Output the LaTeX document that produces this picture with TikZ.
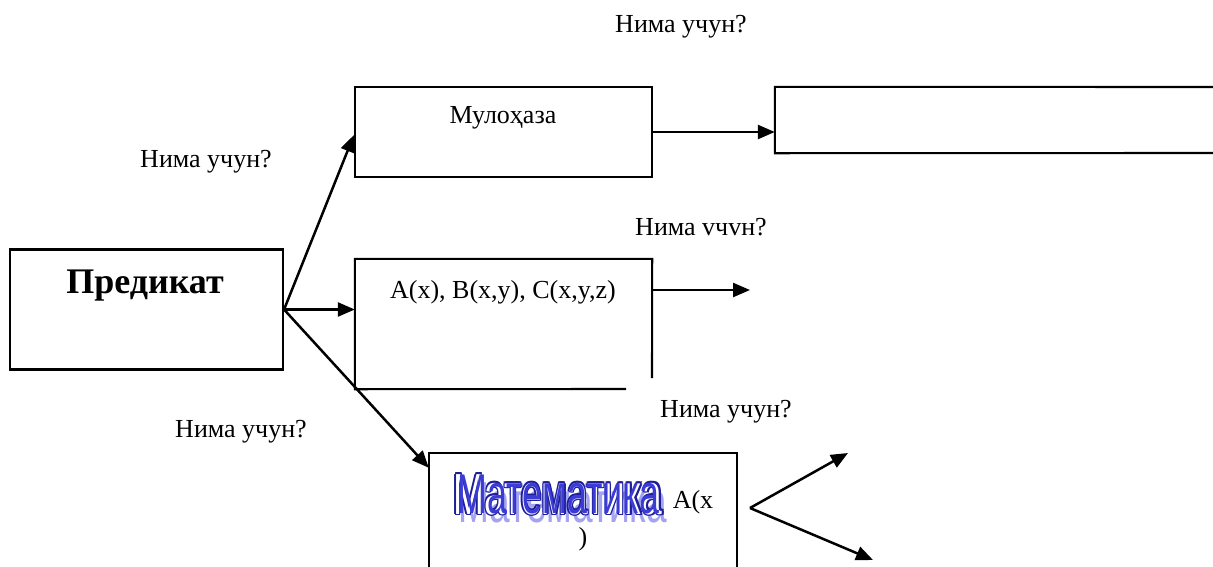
\documentclass[tikz,border=0pt]{standalone}
\usepackage{fontspec}
\setmainfont{Liberation Serif}
\newfontfamily\artfont{Liberation Sans}
\usetikzlibrary{arrows.meta,calc}
\definecolor{artblue}{HTML}{3B3BD6}
\definecolor{artdark}{HTML}{1E1E9A}
\definecolor{artshadow}{HTML}{A3A3F0}
\begin{document}
\begin{tikzpicture}[x=1pt,y=-1pt,
  boxline/.style={line width=2.1pt},
  conn/.style={line width=2.5pt,-{Triangle[length=17pt,width=14pt]}},
  lbl/.style={font=\fontsize{26}{30}\selectfont,inner sep=0pt,anchor=base},
  art/.style={inner sep=0pt,anchor=base,font=\artfont\fontsize{58}{62}\selectfont,xscale=0.64}]
\useasboundingbox (0,0) rectangle (1213,566);
% boxes
\node[draw,boxline,inner sep=0pt,minimum width=273pt,minimum height=120pt] (pred) at (146.5,309.5) {};
\node[draw,boxline,inner sep=0pt,minimum width=297pt,minimum height=90pt] (mul) at (503.5,132) {};
\node[inner sep=0pt,minimum width=460pt,minimum height=66pt] (rbox) at (1005,120) {};
\draw[boxline] (1220,87) -- (rbox.north west) -- (rbox.south west) -- (1220,153);
\node[inner sep=0pt,minimum width=297pt,minimum height=130pt] (abox) at (503.5,324) {};
\draw[boxline] (626,389) -- (abox.south west) -- (abox.north west) -- (abox.north east) -- (652,378);
\node[inner sep=0pt,minimum width=308pt,minimum height=120pt] (mbox) at (583,513) {};
\draw[boxline] (mbox.south west) -- (mbox.north west) -- (mbox.north east) -- (mbox.south east);
% texts
\node[lbl,font=\bfseries\fontsize{36}{40}\selectfont] (tpred) at (145,293) {Предикат};
\node[lbl] (tmul) at (503,123) {Мулоҳаза};
\node[lbl] (tabc) at (503,298) {A(x), B(x,y), C(x,y,z)};
\node[lbl] (q1) at (681,32) {Нима учун?};
\node[lbl] (q2) at (206,167) {Нима учун?};
\node[lbl] (q3) at (701,235) {Нима vчvн?};
\node[lbl] (q4) at (726,417) {Нима учун?};
\node[lbl] (q5) at (241,437) {Нима учун?};
% WordArt
\node[art,text=artshadow] (mshadow) at (563,522) {Математика};
\foreach \dx/\dy in {-1.5/0,1.5/0,0/-1.5,0/1.5,-1.1/-1.1,1.1/1.1,-1.1/1.1,1.1/-1.1}
  \node[art,text=artdark] at (558+\dx,514+\dy) {Математика};
\node[art,text=white] at (558,514) {Математика};
\node[art,text=artblue,font=\artfont\fontsize{56}{62}\selectfont] (mtext) at (558,513) {Математика};
\node[lbl] (tax) at (693,508) {A(x};
\node[lbl] (tpar) at (583,545) {)};
% connectors
\coordinate (aend) at (750,290);
\coordinate (v) at (750,508);
\coordinate (e1) at (848,453);
\coordinate (e2) at (873,560);
\draw[conn] (pred.east) -- ($(mul.west)+(0,3)$);
\draw[conn] (pred.east) -- (pred.east -| abox.west);
\draw[conn] (pred.east) -- ($(mbox.north west)+(0,15)$);
\draw[conn] (mul.east) -- (mul.east -| rbox.west);
\draw[conn] (abox.east |- aend) -- (aend);
\draw[conn] (v) -- (e1);
\draw[conn] (v) -- (e2);
\end{tikzpicture}
\end{document}
